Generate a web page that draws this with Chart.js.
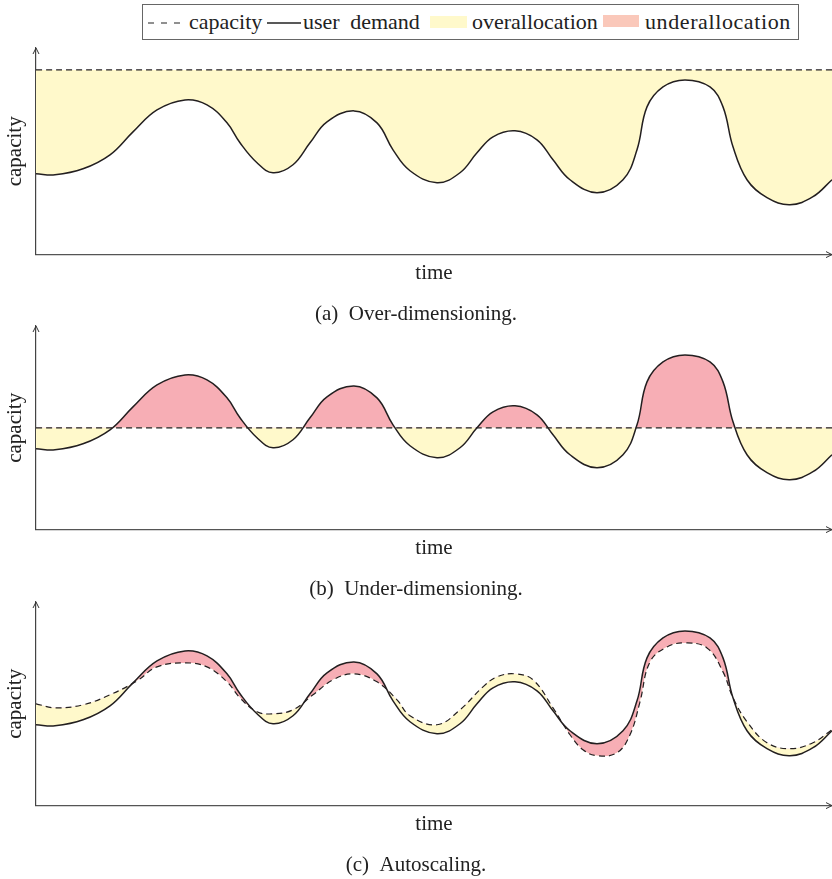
<!DOCTYPE html>
<html>
<head>
<meta charset="utf-8">
<script src="https://cdn.jsdelivr.net/npm/chart.js@4.4.1/dist/chart.umd.min.js"></script>
<style>
  body { margin: 0; background: #fff; width: 832px; height: 879px; position: relative; overflow: hidden;
         font-family: "Liberation Serif", serif; color: #222; }
  canvas.panel { position: absolute; left: 0; }
  #legendBox { position: absolute; left: 142px; top: 4px; width: 655px; height: 34px; border: 1px solid #666; }
  .lgText { position: absolute; top: 11px; font-size: 22px; line-height: 22px; white-space: nowrap; }
  .lgSym { position: absolute; }
</style>
</head>
<body>
<div id="legendBox"></div>
<svg class="lgSym" style="left:148px; top:16px" width="34" height="14"><line x1="0" y1="7" x2="34" y2="7" stroke="#222" stroke-width="1.2" stroke-dasharray="6 7"/></svg>
<span class="lgText" style="left:189px">capacity</span>
<svg class="lgSym" style="left:267px; top:16px" width="34" height="14"><line x1="0" y1="7" x2="34" y2="7" stroke="#222" stroke-width="1.3"/></svg>
<span class="lgText" style="left:303px; word-spacing:5px">user demand</span>
<div class="lgSym" style="left:430px; top:16px; width:37px; height:12px; background:#fff9cb"></div>
<span class="lgText" style="left:472px">overallocation</span>
<div class="lgSym" style="left:603px; top:15px; width:36px; height:12px; background:#fac8ba"></div>
<span class="lgText" style="left:645px; letter-spacing:0.6px">underallocation</span>

<canvas id="panelA" class="panel" width="832" height="284" style="top:43px"></canvas>
<canvas id="panelB" class="panel" width="832" height="284" style="top:318px"></canvas>
<canvas id="panelC" class="panel" width="832" height="284" style="top:594px"></canvas>

<script>
// user demand, same curve in every panel (time, level above the time axis)
const demandTime  = [0, 19, 47, 74, 97, 121, 149, 171, 191, 204, 221, 237, 257, 274, 291, 318, 341, 357, 374, 401,
                     424, 441, 457, 479, 501, 517, 534, 561, 587, 601, 611, 627, 649, 674, 687, 697, 711, 731, 754, 777, 796];
const demandLevel = [81, 80, 86, 100, 123, 145, 155, 150, 132, 112, 92, 82, 90, 112, 133, 144, 132, 105, 84, 72,
                     82, 102, 118, 124, 115, 95, 75, 62, 75, 105, 148, 168, 175, 168, 148, 108, 75, 57, 50, 58, 75];

// fixed capacity for (a) and (b)
const capFixedTime  = [0, 796];
const capOverLevel  = [185, 185];
const capUnderLevel = [102, 102];

// autoscaled capacity for (c)
const capAutoTime  = [0, 19, 47, 74, 101, 121, 149, 171, 191, 204, 221, 237, 257, 277, 297, 318, 341, 361, 374, 401,
                      424, 447, 461, 479, 497, 517, 534, 547, 561, 581, 594, 604, 614, 631, 649, 671, 687, 697, 711, 731,
                      754, 777, 796];
const capAutoLevel = [102, 98, 101, 111, 125, 139, 143, 139, 124, 108, 94, 92, 96, 111, 126, 132, 124, 106, 90, 81,
                      96, 119, 129, 132, 126, 98, 71, 56, 50, 53, 71, 104, 144, 159, 163, 158, 134, 108, 84, 63,
                      57, 63, 76];

const captions = ['(a)\u2002Over-dimensioning.', '(b)\u2002Under-dimensioning.', '(c)\u2002Autoscaling.'];

const overColor  = '#fff9cb';
const underColor = '#f7aeb5';
const inkColor   = '#231f20';
const fontFamily = '"Liberation Serif", "Times New Roman", serif';

function toPoints(times, levels) {
  return times.map((t, i) => ({ x: t, y: levels[i] }));
}

// arrow heads at the end of both axes
const axisArrows = {
  id: 'axisArrows',
  afterDraw(chart) {
    const { ctx, chartArea: a } = chart;
    ctx.save();
    ctx.strokeStyle = '#333';
    ctx.lineWidth = 1;
    ctx.beginPath();
    ctx.moveTo(a.left - 3, a.top + 6);
    ctx.lineTo(a.left, a.top);
    ctx.lineTo(a.left + 3, a.top + 6);
    ctx.stroke();
    ctx.beginPath();
    ctx.moveTo(a.right - 6, a.bottom - 3);
    ctx.lineTo(a.right, a.bottom);
    ctx.lineTo(a.right - 6, a.bottom + 3);
    ctx.stroke();
    ctx.restore();
  }
};

function makePanel(canvasId, capTime, capLevel, demandFill, caption, topPad, yMax) {
  const ctx = document.getElementById(canvasId).getContext('2d');
  return new Chart(ctx, {
    type: 'line',
    data: {
      datasets: [
        {
          label: 'capacity',
          data: toPoints(capTime, capLevel),
          borderColor: inkColor,
          borderWidth: 1.2,
          borderDash: [6, 4],
          pointRadius: 0,
          tension: 0.4,
          fill: false
        },
        {
          label: 'user demand',
          data: toPoints(demandTime, demandLevel),
          borderColor: inkColor,
          borderWidth: 1.5,
          pointRadius: 0,
          tension: 0.4,
          fill: demandFill
        }
      ]
    },
    options: {
      responsive: false,
      animation: false,
      layout: { padding: { top: topPad, left: 0, right: 0, bottom: 0 } },
      plugins: {
        legend: { display: false },
        tooltip: { enabled: false },
        filler: { drawTime: 'beforeDatasetsDraw' },
        title: {
          display: true,
          position: 'bottom',
          text: caption,
          color: '#222',
          font: { family: fontFamily, size: 21, weight: 'normal' },
          padding: { top: 14, bottom: 0 }
        }
      },
      scales: {
        x: {
          type: 'linear',
          min: 0,
          max: 796,
          grid: { display: false, drawTicks: false },
          border: { display: true, color: '#555', width: 1.2 },
          ticks: { display: false },
          title: { display: true, text: 'time', color: '#222',
                   font: { family: fontFamily, size: 21 }, padding: { top: 6, bottom: 2 } }
        },
        y: {
          min: 0,
          max: yMax,
          grid: { display: false, drawTicks: false },
          border: { display: true, color: '#444', width: 1.2 },
          ticks: { display: false },
          title: { display: true, text: 'capacity', color: '#222',
                   font: { family: fontFamily, size: 21 }, padding: { top: 3, bottom: 7.8 } }
        }
      }
    },
    plugins: [axisArrows]
  });
}

makePanel('panelA', capFixedTime, capOverLevel,
  { target: { value: capOverLevel[0] }, above: underColor, below: overColor }, captions[0], 5, 207);
makePanel('panelB', capFixedTime, capUnderLevel,
  { target: { value: capUnderLevel[0] }, above: underColor, below: overColor }, captions[1], 8, 204);
makePanel('panelC', capAutoTime, capAutoLevel,
  { target: 0, above: underColor, below: overColor }, captions[2], 8, 204);
</script>
</body>
</html>
